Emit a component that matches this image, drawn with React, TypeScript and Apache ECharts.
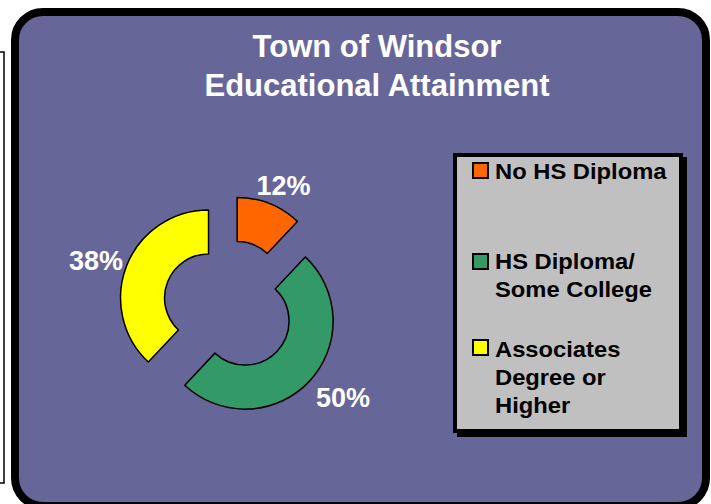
import React, { useEffect, useRef } from "react";
import * as echarts from "echarts";

const categories = ["No HS Diploma", "HS Diploma/ Some College", "Associates Degree or Higher"];
const legendLines = [["No HS Diploma"], ["HS Diploma/", "Some College"], ["Associates", "Degree or", "Higher"]];
const values = [12, 50, 38];
const colors = ["#FF6600", "#339966", "#FFFF00"];
const titleLines = ["Town of Windsor", "Educational Attainment"];

const FONT = "'Liberation Sans', Arial, sans-serif";

export default function App() {
  const ref = useRef<HTMLDivElement>(null);
  useEffect(() => {
    if (!ref.current) return;
    const chart = echarts.init(ref.current, undefined, { renderer: "svg" });
    const legendTextTop = [157, 247, 335];
    const legendMarkTop = [163, 254, 340];
    const labelNudge = [
      [-7, 0],
      [6, 4],
      [1, 2],
    ];
    const legendGraphics: any[] = [];
    legendLines.forEach((lines, i) => {
      legendGraphics.push({
        type: "rect",
        z: 10,
        shape: { x: 473, y: legendMarkTop[i], width: 15, height: 15 },
        style: { fill: colors[i], stroke: "#000000", lineWidth: 2 },
      });
      legendGraphics.push({
        type: "text",
        z: 10,
        x: 495,
        y: legendTextTop[i],
        scaleX: 1.08,
        style: {
          text: lines.join("\n"),
          x: 0,
          y: 0,
          fill: "#000000",
          font: `bold 22px ${FONT}`,
          fontFamily: FONT,
          fontWeight: "bold",
          fontSize: 22,
          lineHeight: 28,
          textAlign: "left",
          textVerticalAlign: "top",
        },
      });
    });
    const option: any = {
      animation: false,
      backgroundColor: "#FFFFFF",
      graphic: [
        {
          type: "rect",
          z: -10,
          shape: { x: -10, y: 52, width: 14, height: 431 },
          style: { fill: "#FFFFFF", stroke: "#000000", lineWidth: 1.5 },
        },
        {
          type: "rect",
          z: -5,
          shape: { x: 15, y: 12, width: 691, height: 494, r: 28 },
          style: { fill: "#666699", stroke: "#000000", lineWidth: 8 },
        },
        {
          type: "text",
          z: 10,
          x: 377,
          y: 27,
          style: {
            text: titleLines.join("\n"),
            fill: "#FFFFFF",
            fontFamily: FONT,
            fontWeight: "bold",
            fontSize: 31,
            lineHeight: 39,
            textAlign: "center",
            textVerticalAlign: "top",
          },
        },
        {
          type: "rect",
          z: -4,
          shape: { x: 457, y: 157, width: 230, height: 280 },
          style: { fill: "#000000" },
        },
        {
          type: "rect",
          z: -3,
          shape: { x: 455, y: 155, width: 226, height: 276 },
          style: { fill: "#C0C0C0", stroke: "#000000", lineWidth: 4 },
        },
        ...legendGraphics,
      ],
      series: [
        {
          type: "pie",
          center: [229, 306],
          radius: [44, 88],
          startAngle: 90,
          clockwise: true,
          selectedMode: "multiple",
          selectedOffset: 22,
          avoidLabelOverlap: false,
          itemStyle: { borderColor: "#000000", borderWidth: 1.5 },
          label: {
            show: true,
            position: "outside",
            formatter: "{d}%",
            color: "#FFFFFF",
            fontFamily: FONT,
            fontWeight: "bold",
            fontSize: 27,
            distanceToLabelLine: 5,
          },
          labelLine: { show: false, length: 19, length2: 9 },
          labelLayout: (p: any) => ({
            align: "center",
            dx: labelNudge[p.dataIndex][0],
            dy: labelNudge[p.dataIndex][1],
          }),
          emphasis: { disabled: true },
          data: categories.map((c, i) => ({
            name: c,
            value: values[i],
            selected: true,
            itemStyle: { color: colors[i] },
          })),
        },
      ],
    };
    chart.setOption(option);
    return () => chart.dispose();
  }, []);
  return (
    <div
      ref={ref}
      style={{ position: "fixed", left: 0, top: 0, width: 711, height: 504 }}
    />
  );
}
